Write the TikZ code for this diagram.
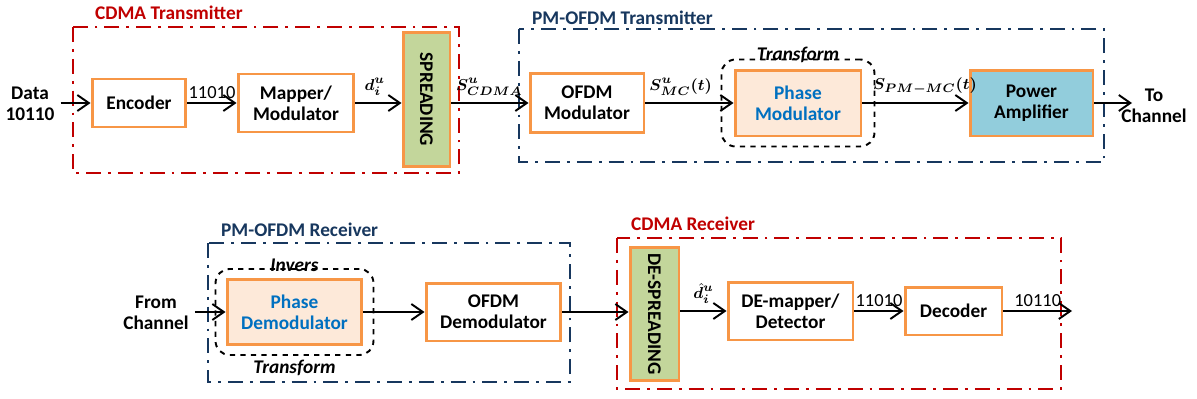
\documentclass[tikz,border=0pt]{standalone}
\usepackage{amsmath}
\usepackage{bm}
\usepackage{fontspec}
\setmainfont{Carlito}
\usepackage{tikz}
\usetikzlibrary{arrows.meta, positioning, fit}

\definecolor{blkorange}{RGB}{247,150,70}
\definecolor{spreadgreen}{RGB}{195,214,155}
\definecolor{phasepeach}{RGB}{253,233,217}
\definecolor{ampblue}{RGB}{146,205,220}
\definecolor{phaseblue}{RGB}{0,112,192}
\definecolor{cdmared}{RGB}{192,0,0}
\definecolor{ofdmnavy}{RGB}{23,55,94}

\begin{document}
\begin{tikzpicture}[x=0.02cm,y=-0.02cm,
  font=\fontsize{11}{12}\selectfont\bfseries,
  >={Straight Barb[length=2.3mm,width=3.2mm,line width=1.1pt]}]
 \tikzstyle{blk}=[rectangle,draw=blkorange,line width=1.7pt,fill=white,
   text centered,align=center,inner sep=1pt]
 \tikzstyle{sig}=[->,line width=1.1pt]
 \tikzstyle{bits}=[above,font=\fontsize{10.5}{12}\selectfont\mdseries,inner sep=2pt]
 \tikzstyle{sym}=[above,font=\fontsize{9.5}{12}\selectfont,inner sep=4pt]
 \tikzstyle{redframe}=[draw=cdmared,line width=1.1pt,
   dash pattern=on 8.5pt off 4pt on 1.6pt off 4pt]
 \tikzstyle{navyframe}=[draw=ofdmnavy,line width=1.1pt,
   dash pattern=on 8.5pt off 4pt on 1.6pt off 4pt]
 \tikzstyle{tfbox}=[draw,dashed,line width=1.1pt,rounded corners=8pt]
 \tikzstyle{tflbl}=[font=\fontsize{11}{12}\selectfont\bfseries\itshape]
 \useasboundingbox (0,0) rectangle (1197,399);

 % group frames
 \draw[redframe] (73,27) rectangle (459,173);
 \draw[navyframe] (519,29) rectangle (1104,162);
 \draw[navyframe] (208,243) rectangle (570,382);
 \draw[redframe] (617,238) rectangle (1061,389);
 \node (cdmatxt) [anchor=west,text=cdmared] at (89,13) {CDMA Transmitter};
 \node (ofdmtxt) [anchor=west,text=ofdmnavy] at (526,18) {PM-OFDM Transmitter};
 \node (ofdmrxt) [anchor=west,text=ofdmnavy] at (215,230) {PM-OFDM Receiver};
 \node (cdmarxt) [anchor=west,text=cdmared] at (625,224) {CDMA Receiver};

 % transmitter
 \node (data) [align=center] at (30,104) {Data\\10110};
 \node (enc) [blk,minimum width=1.88cm,minimum height=0.96cm] at (139,103) {Encoder};
 \node (mapper) [blk,minimum width=2.32cm,minimum height=1.16cm] at (296,103)
   {Mapper/\\Modulator};
 \node (spread) [blk,fill=spreadgreen,minimum width=0.94cm,minimum height=2.68cm]
   at (426.5,99.5) {\rotatebox{-90}{SPREADING}};
 \node (ofdmmod) [blk,minimum width=2.28cm,minimum height=1.18cm] at (587,103)
   {OFDM\\Modulator};
 \node (phasemod) [blk,fill=phasepeach,text=phaseblue,minimum width=2.52cm,
   minimum height=1.32cm] at (798,103) {Phase\\Modulator};
 \node (tfmod) [tfbox,fit=(phasemod),inner xsep=0.24cm,inner ysep=0.18cm] {};
 \node (tflabel) [tflbl,above=-6pt of tfmod] {Transform};
 \node (amp) [blk,fill=ampblue,minimum width=2.46cm,minimum height=1.32cm]
   at (1031.5,103) {Power\\Amplifier};
 \node (tochan) [align=center] at (1154,106) {To\\Channel};
 \coordinate (spreadin) at (spread.west |- mapper.east);
 \coordinate (spreadout) at (spread.east |- mapper.east);
 \coordinate (chanout) at (1132,103);

 \draw[sig] (data.east |- enc.west) -- (enc.west);
 \draw[sig] (enc.east) -- node[bits] {11010} (mapper.west);
 \draw[sig] (mapper.east) -- node[sym,pos=0.42] {$\bm{d}_{\bm{i}}^{\bm{u}}$} (spreadin);
 \draw[sig] (spreadout) -- node[sym,pos=0.49] {$\bm{S}^{\bm{u}}_{\bm{CDMA}}$} (ofdmmod.west);
 \draw[sig] (ofdmmod.east) -- node[sym,pos=0.4] {$\bm{S}^{\bm{u}}_{\bm{MC}}\bm{(t)}$}
   (phasemod.west);
 \draw[sig] (phasemod.east) -- node[sym,pos=0.59] {$\bm{S}_{\bm{PM-MC}}\bm{(t)}$}
   (amp.west);
 \draw[sig] (amp.east) -- (chanout);

 % receiver
 \node (fromchan) [align=center] at (156,313) {From\\Channel};
 \node (phasedemod) [blk,fill=phasepeach,text=phaseblue,minimum width=2.7cm,
   minimum height=1.3cm] at (294.5,312) {Phase\\Demodulator};
 \node (tfdemod) [tfbox,fit=(phasedemod),inner xsep=0.2cm,inner ysep=0.18cm] {};
 \node (invlabel) [tflbl,above=-5.5pt of tfdemod] {Invers};
 \node (tfdlabel) [tflbl,below=-1pt of tfdemod] {Transform};
 \node (ofdmdemod) [blk,minimum width=2.7cm,minimum height=1.16cm] at (493.5,312)
   {OFDM\\Demodulator};
 \node (despread) [blk,fill=spreadgreen,minimum width=0.98cm,minimum height=2.68cm]
   at (654.5,314) {\rotatebox{-90}{DE-SPREADING}};
 \node (demapper) [blk,minimum width=2.5cm,minimum height=1.16cm] at (790.5,311)
   {DE-mapper/\\Detector};
 \node (decoder) [blk,minimum width=1.94cm,minimum height=0.96cm] at (953.5,311)
   {Decoder};
 \coordinate (rxout) at (1072,311);
 \coordinate (despin) at (despread.west |- ofdmdemod.east);
 \coordinate (despout) at (despread.east |- demapper.west);

 \draw[sig] (fromchan.east |- phasedemod.west) -- (phasedemod.west);
 \draw[sig] (phasedemod.east) -- (ofdmdemod.west);
 \draw[sig] (ofdmdemod.east) -- (despin);
 \draw[sig] (despout) -- node[sym] {$\bm{\hat{d}}_{\bm{i}}^{\bm{u}}$} (demapper.west);
 \draw[sig] (demapper.east) -- node[bits] {11010} (decoder.west);
 \draw[sig] (decoder.east) -- node[bits] {10110} (rxout);
\end{tikzpicture}
\end{document}
